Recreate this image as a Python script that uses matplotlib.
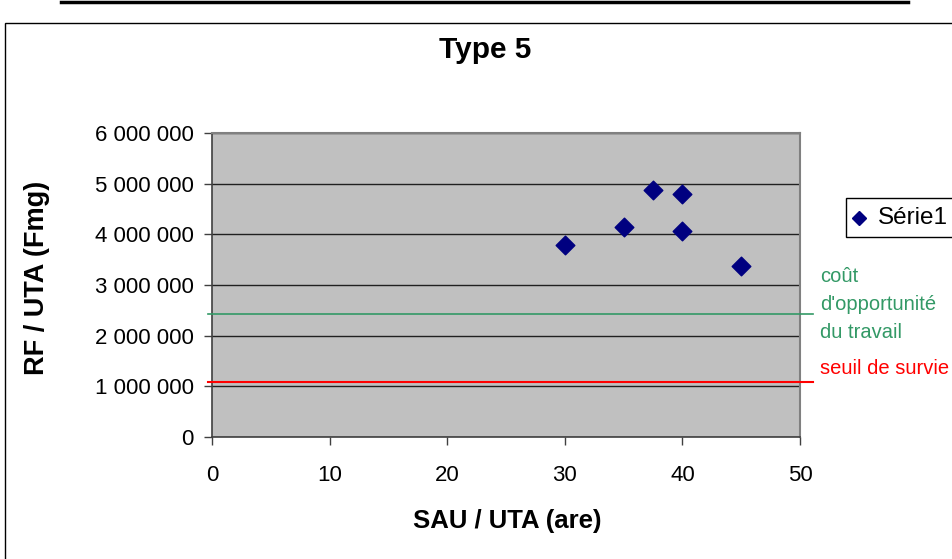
import numpy as np
import matplotlib.pyplot as plt
from matplotlib.patches import Rectangle
from matplotlib.lines import Line2D
from matplotlib.ticker import FuncFormatter

plt.rcParams["font.family"] = ["Liberation Sans", "DejaVu Sans"]

# SAU/UTA (are) vs RF/UTA (Fmg) for the type 5 farms
sau_uta = [30, 35, 37.5, 40, 40, 45]
rf_uta = [3780000, 4150000, 4880000, 4800000, 4070000, 3370000]

cout_opportunite = 2430000
seuil_survie = 1080000

xticks = [0, 10, 20, 30, 40, 50]
yticks = [0, 1000000, 2000000, 3000000, 4000000, 5000000, 6000000]

W, H = 952, 559
fig = plt.figure(figsize=(W / 100, H / 100), dpi=100)
fig.patch.set_facecolor("white")


def px(x, y):
    # pixel position (from top-left) -> figure fraction
    return x / W, 1 - y / H


# axes box in pixels: x 212..800, y 133..437
ax = fig.add_axes([212 / W, 1 - 437 / H, (800 - 212) / W, (437 - 133) / H])
ax.set_facecolor("#c0c0c0")

ax.set_xlim(0, 50)
ax.set_ylim(0, 6000000)
ax.set_xticks(xticks)
ax.set_yticks(yticks)
ax.yaxis.set_major_formatter(FuncFormatter(lambda v, p: f"{int(v):,}".replace(",", " ")))
ax.grid(True, axis="y", color="#202020", linewidth=1)
ax.set_axisbelow(True)

for side in ["top", "right"]:
    ax.spines[side].set_color("#808080")
    ax.spines[side].set_linewidth(1.5)
for side in ["left", "bottom"]:
    ax.spines[side].set_color("#404040")
    ax.spines[side].set_linewidth(1.2)

ax.tick_params(axis="both", direction="out", length=6, width=1, color="#404040",
               labelsize=16)
ax.tick_params(axis="x", pad=14)
ax.tick_params(axis="y", pad=7)

ax.scatter(sau_uta, rf_uta, marker="D", s=90, color="#000080", zorder=3, clip_on=False)

# reference lines running past the plot area
x_end = (813 - 212) / (800 - 212) * 50
ax.plot([-0.3, x_end], [cout_opportunite] * 2, color="#339966", linewidth=1.2,
        clip_on=False, zorder=4)
ax.plot([-0.3, x_end], [seuil_survie] * 2, color="#ff0000", linewidth=1.5,
        clip_on=False, zorder=4)

# axis titles
fig.text(*px(507, 521), "SAU / UTA (are)", fontsize=18.5, fontweight="bold",
         ha="center", va="center")
fig.text(*px(37, 278), "RF / UTA (Fmg)", fontsize=19.5, fontweight="bold",
         ha="center", va="center", rotation=90)

fig.text(*px(485, 50), "Type 5", fontsize=21.5, fontweight="bold",
         ha="center", va="center")

fig.text(*px(820, 277), "coût", color="#339966", fontsize=14.5, va="center")
fig.text(*px(820, 305), "d'opportunité", color="#339966", fontsize=14.5, va="center")
fig.text(*px(820, 332), "du travail", color="#339966", fontsize=14.5, va="center")
fig.text(*px(820, 368), "seuil de survie", color="#ff0000", fontsize=14.5, va="center")

# legend box, cut by the right edge
fig.patches.append(Rectangle(px(846, 237), 200 / W, 39 / H,
                             transform=fig.transFigure, facecolor="white",
                             edgecolor="black", linewidth=1))
fig.lines.append(Line2D([859 / W], [1 - 218 / H], marker="D", markersize=7,
                        color="#000080", transform=fig.transFigure))
fig.text(*px(878, 218), "Série1", fontsize=17.5, va="center")

# chart frame and the rule above it
fig.patches.append(Rectangle((5 / W, -0.1), 1.2, 1 - 23 / H + 0.1,
                             transform=fig.transFigure, facecolor="none",
                             edgecolor="black", linewidth=1))
fig.lines.append(Line2D([61 / W, 908 / W], [1 - 2 / H, 1 - 2 / H], color="black",
                        linewidth=2.5, transform=fig.transFigure))

fig.savefig("out.png", dpi=100)
